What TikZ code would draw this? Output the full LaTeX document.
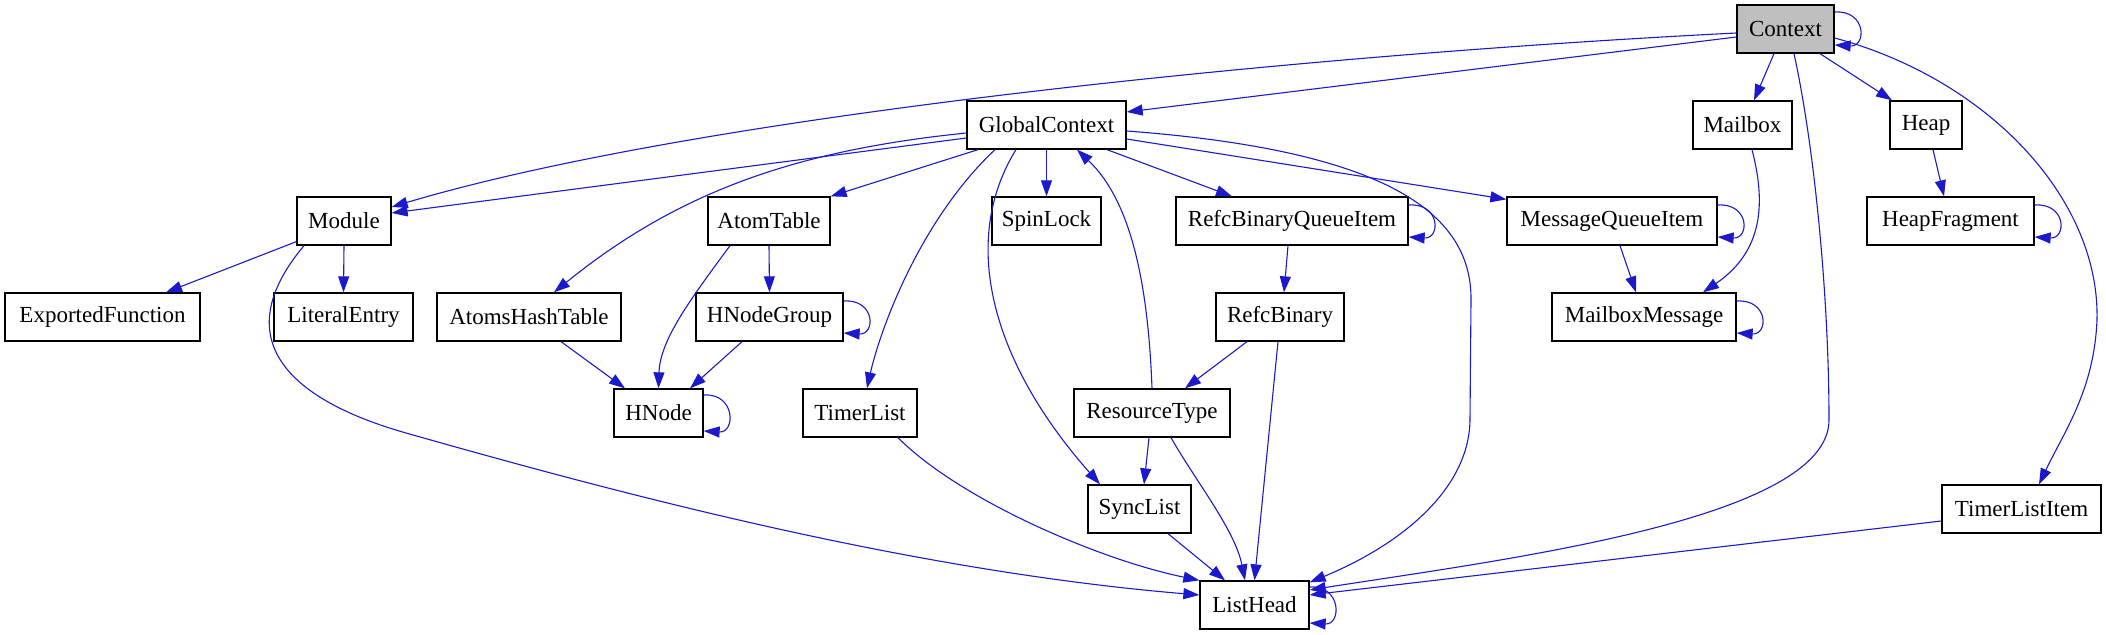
\documentclass[tikz,border=0pt]{standalone}
\usepackage{fontspec}
\setmainfont{Liberation Serif}
\usetikzlibrary{arrows.meta,calc}
\definecolor{edgeblue}{RGB}{26,26,204}
\definecolor{ctxgray}{RGB}{191,191,191}
\tikzset{
  box/.style={draw=black, line width=0.65pt, fill=white, inner sep=0pt, minimum height=24pt,
    font=\fontsize{11.5pt}{14pt}\selectfont},
  edge/.style={draw=edgeblue, line width=0.55pt, -{Triangle[length=8pt,width=5.5pt]}, fill=none},
}
\begin{document}
\begin{tikzpicture}[x=0.5pt,y=-0.5pt]
\useasboundingbox (0,0) rectangle (2106,635);
% row 1
\node[box, fill=ctxgray, minimum width=48.5pt] (ctx) at (1785.5,29) {Context};
% row 2
\node[box, minimum width=79.5pt] (gc) at (1046.5,125) {GlobalContext};
\node[box, minimum width=49.5pt] (mbox) at (1742.5,125) {Mailbox};
\node[box, minimum width=36pt] (heap) at (1926,125) {Heap};
% row 3
\node[box, minimum width=47pt] (mod) at (344,221) {Module};
\node[box, minimum width=61pt] (atab) at (769,221) {AtomTable};
\node[box, minimum width=54.5pt] (spin) at (1046.5,221) {SpinLock};
\node[box, minimum width=116pt] (rbqi) at (1292,221) {RefcBinaryQueueItem};
\node[box, minimum width=105pt] (mqi) at (1612,221) {MessageQueueItem};
\node[box, minimum width=83.5pt] (hfrag) at (1950.5,221) {HeapFragment};
% row 4
\node[box, minimum width=97.5pt] (expf) at (102.5,317) {ExportedFunction};
\node[box, minimum width=69.5pt] (lit) at (343.5,317) {LiteralEntry};
\node[box, minimum width=92pt] (aht) at (529,317) {AtomsHashTable};
\node[box, minimum width=73.5pt] (hng) at (769.5,317) {HNodeGroup};
\node[box, minimum width=64pt] (rb) at (1280,317) {RefcBinary};
\node[box, minimum width=92pt] (mbm) at (1644,317) {MailboxMessage};
% row 5
\node[box, minimum width=44.5pt] (hnode) at (658.5,413) {HNode};
\node[box, minimum width=57pt] (tlist) at (860,413) {TimerList};
\node[box, minimum width=78pt] (rtype) at (1152,413) {ResourceType};
% row 6
\node[box, minimum width=51.5pt] (sync) at (1139.5,509) {SyncList};
\node[box, minimum width=79.5pt] (tli) at (2021.5,509) {TimerListItem};
% row 7
\node[box, minimum width=54.5pt] (lhead) at (1254.5,605) {ListHead};

% ---- edges from Context
\draw[edge] ($(ctx.east)+(0,-17)$) .. controls +(32,-2) and +(32,2) .. ($(ctx.east)+(0,16)$);
\draw[edge] ($(ctx.west)+(0,4)$) .. controls (1300,55) and (700,115) .. ($(mod.east)+(0,-14)$);
\draw[edge] ($(ctx.west)+(0,8)$) -- ($(gc.east)+(0,-13)$);
\draw[edge] ($(ctx.south)+(-11.5,0)$) -- ($(mbox.north)+(11.5,0)$);
\draw[edge] ($(ctx.south)+(34.5,0)$) -- ($(heap.north)+(-34,0)$);
\draw[edge] ($(ctx.south)+(8.5,0)$) .. controls (1815,150) and (1829,300) .. (1829,420)
  .. controls (1829,520) and (1500,560) .. ($(lhead.east)+(0,-15)$);
\draw[edge] ($(ctx.east)+(0,9)$) .. controls (1990,80) and (2100,200) .. (2097,320)
  .. controls (2094,390) and (2065,430) .. ($(tli.north)+(17.5,0)$);

% ---- edges from GlobalContext
\draw[edge] ($(gc.west)+(0,13)$) -- ($(mod.east)+(0,-8)$);
\draw[edge] ($(gc.west)+(0,8)$) .. controls (800,150) and (680,190) .. ($(aht.north)+(25,0)$);
\draw[edge] ($(gc.south)+(-68.5,0)$) -- (atab.north east);
\draw[edge] ($(gc.south)+(-51.5,0)$) .. controls (920,220) and (880,330) .. ($(tlist.north)+(7,0)$);
\draw[edge] ($(gc.south)+(-30.5,0)$) .. controls (960,240) and (990,360) .. ($(sync.north)+(-39.5,0)$);
\draw[edge] (gc.south) -- (spin.north);
\draw[edge] ($(gc.south)+(60.5,0)$) -- ($(rbqi.north)+(-60,0)$);
\draw[edge] ($(gc.east)+(0,14)$) -- ($(mqi.north west)+(0,3)$);
\draw[edge] ($(gc.east)+(0,6)$) .. controls (1380,150) and (1472,210) .. (1471,300)
  -- (1470,420) .. controls (1469,490) and (1400,545) .. ($(lhead.north east)+(0,2)$);

% ---- ResourceType -> GlobalContext
\draw[edge] (rtype.north) .. controls (1148,280) and (1130,200) .. ($(gc.south)+(30.5,0)$);

% ---- Module
\draw[edge] ($(mod.south west)+(0,-4)$) -- ($(expf.north)+(63.5,0)$);
\draw[edge] (mod.south) -- (lit.north);
\draw[edge] ($(mod.south)+(-40,0)$) .. controls (225,340) and (290,400) .. (406,433)
  .. controls (600,488) and (900,570) .. ($(lhead.west)+(0,-10)$);

% ---- AtomTable / HNode
\draw[edge] (atab.south) -- (hng.north);
\draw[edge] ($(atab.south)+(-39,0)$) .. controls (690,300) and (660,340) .. (hnode.north);
\draw[edge] ($(aht.south)+(32,0)$) -- ($(hnode.north)+(-33.5,0)$);
\draw[edge] ($(hng.south)+(-27.5,0)$) -- ($(hnode.north)+(31.5,0)$);
\draw[edge] ($(hng.east)+(0,-16)$) .. controls +(32,-2) and +(32,2) .. ($(hng.east)+(0,16)$);
\draw[edge] ($(hnode.east)+(0,-18)$) .. controls +(32,-2) and +(32,2) .. ($(hnode.east)+(0,18)$);

% ---- TimerList
\draw[edge] ($(tlist.south)+(38,0)$) .. controls (960,500) and (1100,560) .. (lhead.north west);

% ---- RefcBinary chain
\draw[edge] ($(rbqi.south)+(-4,0)$) -- ($(rb.north)+(4,0)$);
\draw[edge] ($(rbqi.east)+(0,-16)$) .. controls +(32,-2) and +(32,2) .. ($(rbqi.east)+(0,16)$);
\draw[edge] ($(rb.south)+(-33,0)$) -- ($(rtype.north)+(33,0)$);
\draw[edge] ($(rb.south)+(-2,0)$) -- (lhead.north);
\draw[edge] ($(rtype.south)+(-3,0)$) -- ($(sync.north)+(4.5,0)$);
\draw[edge] ($(rtype.south)+(19,0)$) .. controls (1195,480) and (1235,530) .. ($(lhead.north)+(-9.5,0)$);
\draw[edge] ($(sync.south)+(28.5,0)$) -- ($(lhead.north)+(-29.5,0)$);

% ---- Messages
\draw[edge] ($(mqi.south)+(8,0)$) -- ($(mbm.north)+(-8,0)$);
\draw[edge] ($(mqi.east)+(0,-16)$) .. controls +(32,-2) and +(32,2) .. ($(mqi.east)+(0,16)$);
\draw[edge] ($(mbox.south)+(9.5,0)$) .. controls (1765,200) and (1765,250) .. ($(mbm.north)+(59,0)$);
\draw[edge] ($(mbm.east)+(0,-16)$) .. controls +(32,-2) and +(32,2) .. ($(mbm.east)+(0,16)$);

% ---- Heap
\draw[edge] ($(heap.south)+(7,0)$) -- ($(hfrag.north)+(-6.5,0)$);
\draw[edge] ($(hfrag.east)+(0,-16)$) .. controls +(32,-2) and +(32,2) .. ($(hfrag.east)+(0,16)$);

% ---- TimerListItem & ListHead
\draw[edge] ($(tli.west)+(0,12)$) -- ($(lhead.east)+(0,-10)$);
\draw[edge] ($(lhead.east)+(0,-18)$) .. controls +(32,-2) and +(32,2) .. ($(lhead.east)+(0,18)$);
\end{tikzpicture}
\end{document}
